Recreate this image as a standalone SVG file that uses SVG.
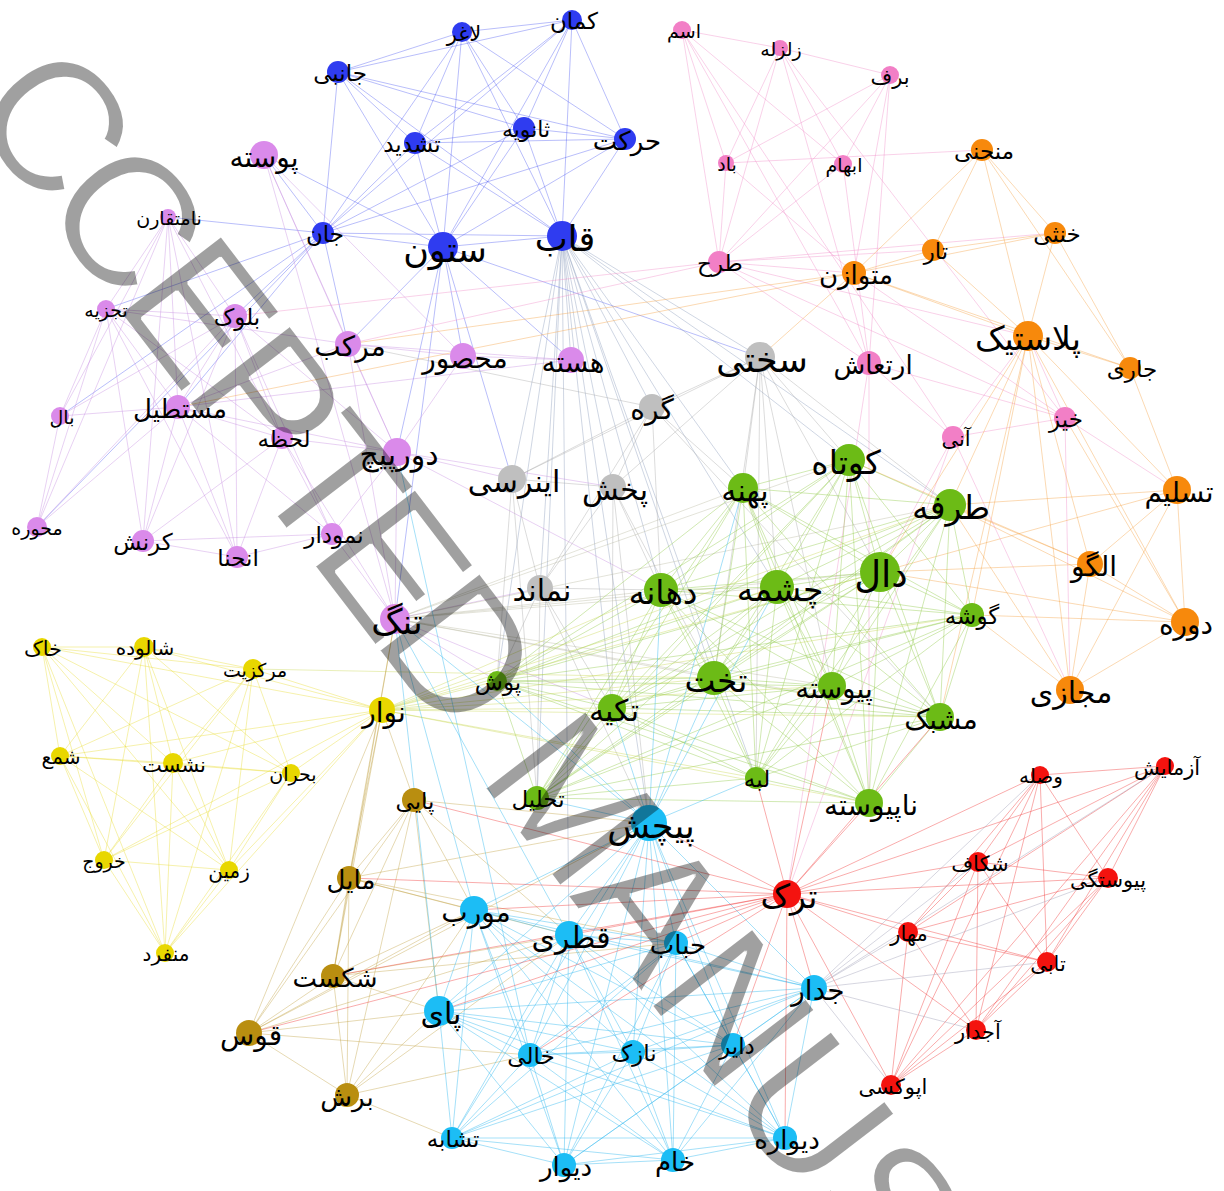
<svg xmlns="http://www.w3.org/2000/svg" width="1224" height="1191" viewBox="0 0 1224 1191">
<style>
text{font-family:'DejaVu Sans','Noto Sans',sans-serif;text-anchor:middle;fill:#000}
.b circle{fill:#2f3cf0}.v circle{fill:#da8aea}.p circle{fill:#f27fc6}.o circle{fill:#f7890c}
.g circle{fill:#bfbfbf}.n circle{fill:#6cbb16}.y circle{fill:#e8d700}.r circle{fill:#b98e10}
.c circle{fill:#1cbdf5}.e circle{fill:#f4130f}
#edges path{fill:none;stroke-width:0.8}
.eb{stroke:#3a48f0;stroke-opacity:.45}.ev{stroke:#c58be0;stroke-opacity:.5}.ep{stroke:#f08cc8;stroke-opacity:.5}
.eo{stroke:#f5a040;stroke-opacity:.5}.eg{stroke:#a8a8a8;stroke-opacity:.5}.en{stroke:#8cc840;stroke-opacity:.5}
.ey{stroke:#e8dc30;stroke-opacity:.5}.er{stroke:#c0a040;stroke-opacity:.5}.ec{stroke:#30b8ee;stroke-opacity:.55}
.ee{stroke:#f03030;stroke-opacity:.5}.ebx{stroke:#8898b8;stroke-opacity:.5}.eyn{stroke:#c8d850;stroke-opacity:.5}
.evn{stroke:#b8b8a0;stroke-opacity:.5}.ex{stroke:#a0a0b8;stroke-opacity:.55}
#watermark text{font-family:'Liberation Sans',Arial,sans-serif;text-anchor:start;fill:#000}
</style>
<defs>
<filter id="thin" x="-5%" y="-5%" width="110%" height="110%"><feMorphology operator="erode" radius="1"/></filter>
</defs>
<g id="edges">
<path class="eb" d="M462 32L572 20M462 32L338 72M462 32L415 143M462 32L524 128M462 32L625 139M462 32L323 233M462 32L443 247M462 32L562 236M572 20L338 72M572 20L415 143M572 20L524 128M572 20L625 139M572 20L323 233M572 20L443 247M572 20L562 236M338 72L415 143M338 72L524 128M338 72L625 139M338 72L323 233M338 72L443 247M338 72L562 236M415 143L524 128M415 143L625 139M415 143L323 233M415 143L443 247M415 143L562 236M524 128L625 139M524 128L323 233M524 128L443 247M524 128L562 236M625 139L323 233M625 139L443 247M625 139L562 236M323 233L443 247M323 233L562 236M443 247L562 236M323 233L168 217M323 233L106 309M323 233L235 316M323 233L178 407M323 233L60 416M323 233L37 527M323 233L348 344M323 233L264 155M443 247L463 356M443 247L397 452M443 247L395 619M443 247L348 344M443 247L264 155M443 247L760 357M443 247L512 479M443 247L571 360"/>
<path class="ebx" d="M562 236L571 360M562 236L652 407M562 236L512 479M562 236L613 487M562 236L540 588M562 236L743 488M562 236L661 590M562 236L612 708M562 236L714 678M562 236L649 823M562 236L537 798M562 236L756 778M562 236L849 460M562 236L950 505M562 236L760 357M562 236L497 681M562 236L777 587M562 236L569 935"/>
<path class="ev" d="M168 217L106 309M168 217L60 416M168 217L178 407M168 217L143 541M168 217L237 557M168 217L235 316M168 217L37 527M168 217L282 438M106 309L60 416M106 309L37 527M106 309L178 407M106 309L235 316M106 309L143 541M106 309L237 557M106 309L282 438M235 316L178 407M235 316L60 416M235 316L37 527M235 316L143 541M235 316L237 557M235 316L282 438M235 316L332 534M235 316L397 452M178 407L60 416M178 407L37 527M178 407L143 541M178 407L237 557M178 407L332 534M178 407L282 438M178 407L397 452M282 438L237 557M282 438L332 534M282 438L143 541M282 438L397 452M143 541L237 557M143 541L332 534M237 557L332 534M60 416L37 527M264 155L348 344M264 155L395 619M264 155L397 452M264 155L463 356M348 344L397 452M348 344L395 619M348 344L463 356M348 344L571 360M463 356L571 360M463 356L397 452M397 452L395 619M332 534L395 619M282 438L395 619M332 534L397 452M178 407L348 344M397 452L512 479M397 452L613 487M397 452L661 590M395 619L540 588M395 619L497 681M395 619L612 708M106 309L348 344M178 407L571 360"/>
<path class="evn" d="M395 619L743 488M395 619L661 590M395 619L777 587M395 619L880 572M395 619L714 678M395 619L832 686M395 619L940 717M395 619L849 460M395 619L950 505"/>
<path class="ep" d="M682 30L780 48M682 30L726 163M682 30L719 262M682 30L843 164M682 30L869 363M682 30L953 437M780 48L890 75M780 48L719 262M780 48L726 163M780 48L843 164M780 48L869 363M780 48L1065 418M890 75L719 262M890 75L726 163M890 75L869 363M890 75L843 164M890 75L854 273M726 163L719 262M726 163L982 150M843 164L869 363M843 164L719 262M719 262L854 273M719 262L933 250M719 262L1055 233M719 262L1028 336M719 262L869 363M719 262L1065 418M869 363L953 437M869 363L1065 418M953 437L1065 418M953 437L1028 336M1065 418L1028 336M1065 418L854 273M1065 418L1177 490M1065 418L1070 690M953 437L1070 690M869 363L787 894M953 437L880 572M953 437L787 894M869 363L869 803M719 262L348 344M719 262L235 316M726 163L854 273"/>
<path class="eo" d="M982 150L1055 233M982 150L933 250M982 150L854 273M982 150L1028 336M982 150L1130 368M1055 233L933 250M1055 233L854 273M1055 233L1028 336M1055 233L1130 368M933 250L854 273M933 250L1028 336M854 273L1028 336M854 273L1130 368M1028 336L1130 368M1028 336L1177 490M1028 336L1090 564M1028 336L1185 622M1028 336L1070 690M1028 336L950 505M1028 336L880 572M1028 336L940 717M1028 336L972 615M1130 368L1177 490M1177 490L1090 564M1177 490L1185 622M1177 490L1070 690M1177 490L950 505M1177 490L880 572M1090 564L1185 622M1090 564L1070 690M1090 564L950 505M1090 564L880 572M1090 564L849 460M1185 622L1070 690M1185 622L950 505M1185 622L972 615M1185 622L880 572M1070 690L950 505M1070 690L972 615M1185 622L1065 418M854 273L760 357M854 273L348 344M854 273L178 407"/>
<path class="eg" d="M760 357L652 407M760 357L613 487M760 357L512 479M760 357L849 460M760 357L743 488M760 357L950 505M760 357L880 572M760 357L777 587M760 357L714 678M760 357L832 686M760 357L756 778M652 407L613 487M652 407L512 479M652 407L540 588M652 407L661 590M652 407L743 488M652 407L348 344M652 407L940 717M512 479L613 487M512 479L540 588M512 479L497 681M512 479L537 798M613 487L540 588M613 487L661 590M613 487L612 708M613 487L649 823M613 487L714 678M540 588L497 681M540 588L612 708M540 588L661 590M540 588L537 798M540 588L649 823"/>
<path class="en" d="M743 488L849 460M743 488L950 505M743 488L880 572M743 488L661 590M743 488L777 587M743 488L972 615M743 488L497 681M743 488L714 678M743 488L612 708M743 488L832 686M743 488L940 717M743 488L756 778M743 488L537 798M743 488L869 803M849 460L950 505M849 460L880 572M849 460L661 590M849 460L777 587M849 460L972 615M849 460L497 681M849 460L714 678M849 460L612 708M849 460L832 686M849 460L940 717M849 460L756 778M849 460L537 798M849 460L869 803M950 505L880 572M950 505L661 590M950 505L777 587M950 505L972 615M950 505L497 681M950 505L714 678M950 505L612 708M950 505L832 686M950 505L940 717M950 505L756 778M950 505L537 798M950 505L869 803M880 572L661 590M880 572L777 587M880 572L972 615M880 572L497 681M880 572L714 678M880 572L612 708M880 572L832 686M880 572L940 717M880 572L756 778M880 572L537 798M880 572L869 803M661 590L777 587M661 590L972 615M661 590L497 681M661 590L714 678M661 590L612 708M661 590L832 686M661 590L940 717M661 590L756 778M661 590L537 798M661 590L869 803M777 587L972 615M777 587L497 681M777 587L714 678M777 587L612 708M777 587L832 686M777 587L940 717M777 587L756 778M777 587L537 798M777 587L869 803M972 615L497 681M972 615L714 678M972 615L612 708M972 615L832 686M972 615L940 717M972 615L756 778M972 615L537 798M972 615L869 803M497 681L714 678M497 681L612 708M497 681L832 686M497 681L940 717M497 681L756 778M497 681L537 798M497 681L869 803M714 678L612 708M714 678L832 686M714 678L940 717M714 678L756 778M714 678L537 798M714 678L869 803M612 708L832 686M612 708L940 717M612 708L756 778M612 708L537 798M612 708L869 803M832 686L940 717M832 686L756 778M832 686L537 798M832 686L869 803M940 717L756 778M940 717L537 798M940 717L869 803M756 778L537 798M756 778L869 803M537 798L869 803"/>
<path class="eyn" d="M382 710L497 681M382 710L714 678M382 710L612 708M382 710L832 686M382 710L940 717M382 710L972 615M382 710L661 590M382 710L777 587M382 710L880 572M382 710L950 505M382 710L756 778M382 710L869 803M253 669L714 678"/>
<path class="ey" d="M42 647L144 647M42 647L253 669M42 647L382 710M42 647L60 756M42 647L173 763M42 647L291 773M42 647L104 860M42 647L229 870M42 647L165 953M144 647L253 669M144 647L382 710M144 647L60 756M144 647L173 763M144 647L291 773M144 647L104 860M144 647L229 870M144 647L165 953M253 669L382 710M253 669L60 756M253 669L173 763M253 669L291 773M253 669L104 860M253 669L229 870M253 669L165 953M382 710L60 756M382 710L173 763M382 710L291 773M382 710L104 860M382 710L229 870M382 710L165 953M60 756L173 763M60 756L291 773M60 756L104 860M60 756L229 870M60 756L165 953M173 763L291 773M173 763L104 860M173 763L229 870M173 763L165 953M291 773L104 860M291 773L229 870M291 773L165 953M104 860L229 870M104 860L165 953M229 870L165 953"/>
<path class="er" d="M414 800L349 878M414 800L333 976M414 800L249 1033M414 800L347 1095M349 878L333 976M349 878L249 1033M349 878L347 1095M333 976L249 1033M333 976L347 1095M249 1033L347 1095M249 1033L382 710M349 878L382 710M414 800L382 710M333 976L382 710M349 878L395 619M333 976L395 619M249 1033L474 910M249 1033L569 935M249 1033L439 1011M249 1033L530 1055M249 1033L649 823M333 976L474 910M333 976L569 935M333 976L439 1011M333 976L676 943M349 878L474 910M349 878L569 935M349 878L649 823M349 878L676 943M347 1095L439 1011M347 1095L530 1055M347 1095L452 1138M347 1095L569 935M347 1095L474 910M414 800L474 910M414 800L439 1011M414 800L649 823M414 800L569 935"/>
<path class="ec" d="M649 823L474 910M649 823L569 935M649 823L676 943M649 823L814 988M649 823L439 1011M649 823L530 1055M649 823L633 1052M649 823L733 1045M649 823L452 1138M649 823L564 1165M649 823L673 1160M649 823L785 1138M474 910L569 935M474 910L676 943M474 910L814 988M474 910L439 1011M474 910L530 1055M474 910L633 1052M474 910L733 1045M474 910L452 1138M474 910L564 1165M474 910L673 1160M474 910L785 1138M569 935L676 943M569 935L814 988M569 935L439 1011M569 935L530 1055M569 935L633 1052M569 935L733 1045M569 935L452 1138M569 935L564 1165M569 935L673 1160M569 935L785 1138M676 943L814 988M676 943L439 1011M676 943L530 1055M676 943L633 1052M676 943L733 1045M676 943L452 1138M676 943L564 1165M676 943L673 1160M676 943L785 1138M814 988L439 1011M814 988L530 1055M814 988L633 1052M814 988L733 1045M814 988L452 1138M814 988L564 1165M814 988L673 1160M814 988L785 1138M439 1011L530 1055M439 1011L633 1052M439 1011L733 1045M439 1011L452 1138M439 1011L564 1165M439 1011L673 1160M439 1011L785 1138M530 1055L633 1052M530 1055L733 1045M530 1055L452 1138M530 1055L564 1165M530 1055L673 1160M530 1055L785 1138M633 1052L733 1045M633 1052L452 1138M633 1052L564 1165M633 1052L673 1160M633 1052L785 1138M733 1045L452 1138M733 1045L564 1165M733 1045L673 1160M733 1045L785 1138M452 1138L564 1165M452 1138L673 1160M452 1138L785 1138M564 1165L673 1160M564 1165L785 1138M673 1160L785 1138M649 823L612 708M649 823L714 678M649 823L661 590M649 823L777 587M649 823L756 778M649 823L537 798M649 823L497 681M649 823L743 488M649 823L395 619M474 910L395 619M439 1011L395 619M569 935L395 619M530 1055L397 452"/>
<path class="ee" d="M787 894L1040 775M787 894L1165 766M787 894L978 862M787 894L1108 878M787 894L908 932M787 894L1047 962M787 894L976 1030M787 894L891 1085M1040 775L1165 766M1040 775L978 862M1040 775L1108 878M1040 775L908 932M1040 775L1047 962M1040 775L976 1030M1040 775L891 1085M1165 766L978 862M1165 766L1108 878M1165 766L908 932M1165 766L1047 962M1165 766L976 1030M1165 766L891 1085M978 862L1108 878M978 862L908 932M978 862L1047 962M978 862L976 1030M978 862L891 1085M1108 878L908 932M1108 878L1047 962M1108 878L976 1030M1108 878L891 1085M908 932L1047 962M908 932L976 1030M908 932L891 1085M1047 962L976 1030M1047 962L891 1085M976 1030L891 1085M787 894L676 943M787 894L474 910M787 894L569 935M787 894L814 988M787 894L733 1045M787 894L785 1138M787 894L439 1011M787 894L649 823M787 894L756 778M787 894L869 803M787 894L832 686M787 894L349 878M787 894L414 800M787 894L249 1033M787 894L530 1055M787 894L940 717M787 894L333 976"/>
<path class="ex" d="M814 988L978 862M814 988L1108 878M814 988L908 932M814 988L1047 962M814 988L976 1030M814 988L891 1085M814 988L1040 775M814 988L1165 766"/>
</g>
<g id="nodes">
<g id="n-laghar" class="b"><circle cx="462" cy="32" r="10"/><text x="464" y="41" font-size="21">لاغر</text></g>
<g id="n-kaman" class="b"><circle cx="572" cy="20" r="10"/><text x="574" y="29" font-size="23">کمان</text></g>
<g id="n-janebi" class="b"><circle cx="338" cy="72" r="11"/><text x="340" y="81" font-size="23">جانبی</text></g>
<g id="n-tashdid" class="b"><circle cx="415" cy="143" r="11"/><text x="412" y="152" font-size="23">تشدید</text></g>
<g id="n-sanaviye" class="b"><circle cx="524" cy="128" r="11"/><text x="526" y="137" font-size="22">ثانویه</text></g>
<g id="n-harekat" class="b"><circle cx="625" cy="139" r="11"/><text x="627" y="150" font-size="26">حرکت</text></g>
<g id="n-jan" class="b"><circle cx="323" cy="233" r="11"/><text x="325" y="242" font-size="23">جان</text></g>
<g id="n-sotun" class="b"><circle cx="443" cy="247" r="15"/><text x="445" y="262" font-size="35">ستون</text></g>
<g id="n-ghab" class="b"><circle cx="562" cy="236" r="15"/><text x="565" y="251" font-size="35">قاب</text></g>
<g id="n-puste" class="v"><circle cx="264" cy="155" r="14"/><text x="264" y="167" font-size="28">پوسته</text></g>
<g id="n-namotagharen" class="v"><circle cx="168" cy="217" r="8"/><text x="169" y="225" font-size="19">نامتقارن</text></g>
<g id="n-tajziye" class="v"><circle cx="106" cy="309" r="9"/><text x="106" y="317" font-size="19">تجزیه</text></g>
<g id="n-boluk" class="v"><circle cx="235" cy="316" r="12"/><text x="237" y="325" font-size="23">بلوک</text></g>
<g id="n-morakkab" class="v"><circle cx="348" cy="344" r="13"/><text x="350" y="356" font-size="28">مرکب</text></g>
<g id="n-mahsur" class="v"><circle cx="463" cy="356" r="13"/><text x="465" y="368" font-size="28">محصور</text></g>
<g id="n-haste" class="v"><circle cx="571" cy="360" r="13"/><text x="573" y="372" font-size="28">هسته</text></g>
<g id="n-bal" class="v"><circle cx="60" cy="416" r="9"/><text x="62" y="424" font-size="19">بال</text></g>
<g id="n-mostatil" class="v"><circle cx="178" cy="407" r="12"/><text x="180" y="418" font-size="26">مستطیل</text></g>
<g id="n-lahze" class="v"><circle cx="282" cy="438" r="11"/><text x="284" y="447" font-size="23">لحظه</text></g>
<g id="n-dorpich" class="v"><circle cx="397" cy="452" r="14"/><text x="399" y="465" font-size="30">دورپیچ</text></g>
<g id="n-mehvare" class="v"><circle cx="37" cy="527" r="10"/><text x="37" y="535" font-size="19">محوره</text></g>
<g id="n-kornesh" class="v"><circle cx="143" cy="541" r="11"/><text x="143" y="550" font-size="23">کرنش</text></g>
<g id="n-enhena" class="v"><circle cx="237" cy="557" r="11"/><text x="238" y="566" font-size="23">انحنا</text></g>
<g id="n-nemudar" class="v"><circle cx="332" cy="534" r="11"/><text x="334" y="543" font-size="23">نمودار</text></g>
<g id="n-tang" class="v"><circle cx="395" cy="619" r="15"/><text x="397" y="634" font-size="35">تنگ</text></g>
<g id="n-sakhti" class="g"><circle cx="760" cy="357" r="15"/><text x="762" y="372" font-size="35">سختی</text></g>
<g id="n-gereh" class="g"><circle cx="652" cy="407" r="13"/><text x="652" y="419" font-size="28">گره</text></g>
<g id="n-inersi" class="g"><circle cx="512" cy="479" r="14"/><text x="514" y="492" font-size="30">اینرسی</text></g>
<g id="n-pakhsh" class="g"><circle cx="613" cy="487" r="13"/><text x="615" y="500" font-size="30">پخش</text></g>
<g id="n-namanad" class="g"><circle cx="540" cy="588" r="13"/><text x="542" y="601" font-size="30">نماند</text></g>
<g id="n-pahne" class="n"><circle cx="743" cy="488" r="15"/><text x="745" y="501" font-size="30">پهنه</text></g>
<g id="n-kutah" class="n"><circle cx="849" cy="460" r="16"/><text x="846" y="474" font-size="33">کوتاه</text></g>
<g id="n-tarafe" class="n"><circle cx="950" cy="505" r="16"/><text x="951" y="519" font-size="33">طرفه</text></g>
<g id="n-dal" class="n"><circle cx="880" cy="572" r="20"/><text x="881" y="587" font-size="37">دال</text></g>
<g id="n-dahane" class="n"><circle cx="661" cy="590" r="17"/><text x="663" y="604" font-size="33">دهانه</text></g>
<g id="n-cheshme" class="n"><circle cx="777" cy="587" r="17"/><text x="780" y="601" font-size="33">چشمه</text></g>
<g id="n-gushe" class="n"><circle cx="972" cy="615" r="12"/><text x="972" y="624" font-size="23">گوشه</text></g>
<g id="n-push" class="n"><circle cx="497" cy="681" r="10"/><text x="498" y="690" font-size="23">پوش</text></g>
<g id="n-takht" class="n"><circle cx="714" cy="678" r="17"/><text x="716" y="692" font-size="33">تخت</text></g>
<g id="n-tekye" class="n"><circle cx="612" cy="708" r="14"/><text x="614" y="721" font-size="30">تکیه</text></g>
<g id="n-peyvaste" class="n"><circle cx="832" cy="686" r="14"/><text x="834" y="698" font-size="28">پیوسته</text></g>
<g id="n-moshabbak" class="n"><circle cx="940" cy="717" r="14"/><text x="941" y="729" font-size="28">مشبک</text></g>
<g id="n-labe" class="n"><circle cx="756" cy="778" r="11"/><text x="757" y="787" font-size="23">لبه</text></g>
<g id="n-tahlil" class="n"><circle cx="537" cy="798" r="12"/><text x="538" y="807" font-size="23">تحلیل</text></g>
<g id="n-napeyvaste" class="n"><circle cx="869" cy="803" r="14"/><text x="871" y="815" font-size="28">ناپیوسته</text></g>
<g id="n-monhani" class="o"><circle cx="982" cy="150" r="11"/><text x="984" y="159" font-size="23">منحنی</text></g>
<g id="n-khonsa" class="o"><circle cx="1055" cy="233" r="11"/><text x="1057" y="242" font-size="23">خنثی</text></g>
<g id="n-tar" class="o"><circle cx="933" cy="250" r="11"/><text x="936" y="259" font-size="23">تار</text></g>
<g id="n-motavazen" class="o"><circle cx="854" cy="273" r="12"/><text x="856" y="284" font-size="26">متوازن</text></g>
<g id="n-plastik" class="o"><circle cx="1028" cy="336" r="15"/><text x="1028" y="350" font-size="33">پلاستیک</text></g>
<g id="n-jari" class="o"><circle cx="1130" cy="368" r="11"/><text x="1132" y="377" font-size="23">جاری</text></g>
<g id="n-taslim" class="o"><circle cx="1177" cy="490" r="14"/><text x="1179" y="502" font-size="28">تسلیم</text></g>
<g id="n-olgu" class="o"><circle cx="1090" cy="564" r="13"/><text x="1094" y="576" font-size="28">الگو</text></g>
<g id="n-dore" class="o"><circle cx="1185" cy="622" r="14"/><text x="1186" y="634" font-size="28">دوره</text></g>
<g id="n-majazi" class="o"><circle cx="1070" cy="690" r="14"/><text x="1071" y="703" font-size="30">مجازی</text></g>
<g id="n-esm" class="p"><circle cx="682" cy="30" r="9"/><text x="684" y="38" font-size="19">اسم</text></g>
<g id="n-zelzele" class="p"><circle cx="780" cy="48" r="8"/><text x="781" y="56" font-size="19">زلزله</text></g>
<g id="n-barf" class="p"><circle cx="890" cy="75" r="9"/><text x="890" y="84" font-size="21">برف</text></g>
<g id="n-bad" class="p"><circle cx="726" cy="163" r="8"/><text x="727" y="171" font-size="19">باد</text></g>
<g id="n-ebham" class="p"><circle cx="843" cy="164" r="9"/><text x="844" y="172" font-size="19">ابهام</text></g>
<g id="n-tarh" class="p"><circle cx="719" cy="262" r="11"/><text x="720" y="271" font-size="23">طرح</text></g>
<g id="n-ertesh" class="p"><circle cx="869" cy="363" r="12"/><text x="873" y="374" font-size="26">ارتعاش</text></g>
<g id="n-ani" class="p"><circle cx="953" cy="437" r="11"/><text x="956" y="446" font-size="21">آنی</text></g>
<g id="n-khiz" class="p"><circle cx="1065" cy="418" r="11"/><text x="1066" y="427" font-size="23">خیز</text></g>
<g id="n-khak" class="y"><circle cx="42" cy="647" r="9"/><text x="43" y="656" font-size="21">خاک</text></g>
<g id="n-shalude" class="y"><circle cx="144" cy="647" r="10"/><text x="145" y="655" font-size="20">شالوده</text></g>
<g id="n-markaziyat" class="y"><circle cx="253" cy="669" r="10"/><text x="255" y="677" font-size="19">مرکزیت</text></g>
<g id="n-navar" class="y"><circle cx="382" cy="710" r="13"/><text x="384" y="722" font-size="28">نوار</text></g>
<g id="n-shame" class="y"><circle cx="60" cy="756" r="9"/><text x="61" y="764" font-size="20">شمع</text></g>
<g id="n-neshast" class="y"><circle cx="173" cy="763" r="10"/><text x="174" y="772" font-size="21">نشست</text></g>
<g id="n-bohran" class="y"><circle cx="291" cy="773" r="9"/><text x="293" y="781" font-size="19">بحران</text></g>
<g id="n-khoruj" class="y"><circle cx="104" cy="860" r="9"/><text x="104" y="868" font-size="19">خروج</text></g>
<g id="n-zamin" class="y"><circle cx="229" cy="870" r="9"/><text x="229" y="878" font-size="20">زمین</text></g>
<g id="n-monfared" class="y"><circle cx="165" cy="953" r="9"/><text x="166" y="961" font-size="20">منفرد</text></g>
<g id="n-payi" class="r"><circle cx="414" cy="800" r="12"/><text x="415" y="809" font-size="23">پایی</text></g>
<g id="n-mayel" class="r"><circle cx="349" cy="878" r="12"/><text x="351" y="889" font-size="26">مایل</text></g>
<g id="n-shekast" class="r"><circle cx="333" cy="976" r="12"/><text x="335" y="987" font-size="26">شکست</text></g>
<g id="n-ghos" class="r"><circle cx="249" cy="1033" r="13"/><text x="251" y="1045" font-size="28">قوس</text></g>
<g id="n-boresh" class="r"><circle cx="347" cy="1095" r="12"/><text x="347" y="1106" font-size="26">برش</text></g>
<g id="n-pichesh" class="c"><circle cx="649" cy="823" r="18"/><text x="651" y="838" font-size="35">پیچش</text></g>
<g id="n-movarrab" class="c"><circle cx="474" cy="910" r="14"/><text x="476" y="922" font-size="28">مورب</text></g>
<g id="n-ghotri" class="c"><circle cx="569" cy="935" r="14"/><text x="571" y="948" font-size="30">قطری</text></g>
<g id="n-hobab" class="c"><circle cx="676" cy="943" r="12"/><text x="678" y="954" font-size="26">حباب</text></g>
<g id="n-jedar" class="c"><circle cx="814" cy="988" r="13"/><text x="818" y="1000" font-size="28">جدار</text></g>
<g id="n-pay" class="c"><circle cx="439" cy="1011" r="15"/><text x="441" y="1024" font-size="30">پای</text></g>
<g id="n-khali" class="c"><circle cx="530" cy="1055" r="12"/><text x="531" y="1064" font-size="23">خالی</text></g>
<g id="n-nazok" class="c"><circle cx="633" cy="1052" r="12"/><text x="634" y="1061" font-size="23">نازک</text></g>
<g id="n-dayer" class="c"><circle cx="733" cy="1045" r="12"/><text x="737" y="1054" font-size="23">دایر</text></g>
<g id="n-tashabo" class="c"><circle cx="452" cy="1138" r="11"/><text x="453" y="1147" font-size="23">تشابه</text></g>
<g id="n-divar" class="c"><circle cx="564" cy="1165" r="12"/><text x="566" y="1176" font-size="26">دیوار</text></g>
<g id="n-kham" class="c"><circle cx="673" cy="1160" r="12"/><text x="675" y="1171" font-size="26">خام</text></g>
<g id="n-divare" class="c"><circle cx="785" cy="1138" r="12"/><text x="787" y="1149" font-size="26">دیواره</text></g>
<g id="n-tarak" class="e"><circle cx="787" cy="894" r="14"/><text x="789" y="908" font-size="33">ترک</text></g>
<g id="n-vasle" class="e"><circle cx="1040" cy="775" r="9"/><text x="1041" y="783" font-size="20">وصله</text></g>
<g id="n-azmayesh" class="e"><circle cx="1165" cy="766" r="9"/><text x="1167" y="775" font-size="21">آزمایش</text></g>
<g id="n-shekaf" class="e"><circle cx="978" cy="862" r="10"/><text x="980" y="871" font-size="21">شکاف</text></g>
<g id="n-peyvastegi" class="e"><circle cx="1108" cy="878" r="10"/><text x="1108" y="887" font-size="21">پیوستگی</text></g>
<g id="n-mahar" class="e"><circle cx="908" cy="932" r="10"/><text x="909" y="941" font-size="21">مهار</text></g>
<g id="n-tabi" class="e"><circle cx="1047" cy="962" r="10"/><text x="1048" y="971" font-size="21">تابی</text></g>
<g id="n-ajdar" class="e"><circle cx="976" cy="1030" r="10"/><text x="978" y="1039" font-size="21">آجدار</text></g>
<g id="n-epoxy" class="e"><circle cx="891" cy="1085" r="10"/><text x="893" y="1094" font-size="21">اپوکسی</text></g>
</g>
<g id="watermark" opacity="0.37" filter="url(#thin)">
<text transform="translate(-104 21) rotate(52.5)" x="-45 111 231 353 466 576 672 778 904 952 1102 1226 1356" font-size="185" letter-spacing="-3">ACCEPTED MANUSCRIPT</text>
</g>
</svg>
